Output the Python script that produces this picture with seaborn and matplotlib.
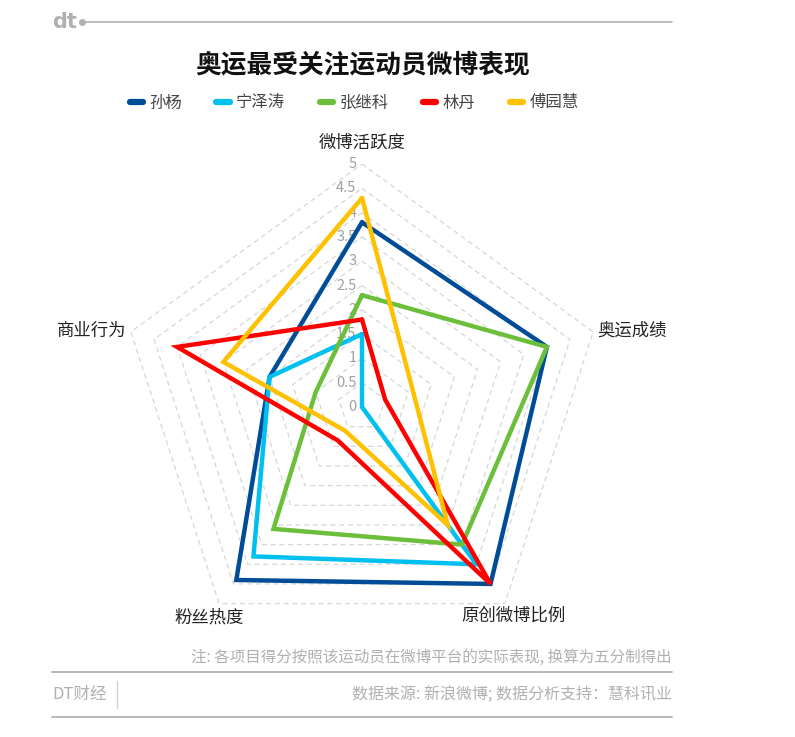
import numpy as np
import pandas as pd
import matplotlib
matplotlib.use("Agg")
import matplotlib.pyplot as plt
import matplotlib.transforms as mtransforms
from matplotlib.lines import Line2D
import seaborn as sns

# ---------------- data ----------------
categories = ['微博活跃度', '奥运成绩', '原创微博比例', '粉丝热度', '商业行为']
athletes = ['孙杨', '宁泽涛', '张继科', '林丹', '傅园慧']
sun_yang = [3.8, 4.0, 4.5, 4.4, 2.0]
ning_zetao = [1.5, 0.0, 4.0, 3.8, 2.0]
zhang_jike = [2.3, 4.0, 3.5, 3.1, 1.0]
lin_dan = [1.8, 0.5, 4.5, 0.85, 4.0]
fu_yuanhui = [4.3, 1.1, 3.0, 0.6, 3.0]
series = [sun_yang, ning_zetao, zhang_jike, lin_dan, fu_yuanhui]
colors = ['#004C97', '#00C0F0', '#6BBF3B', '#FF0000', '#FFC000']
tick_values = [0, 0.5, 1, 1.5, 2, 2.5, 3, 3.5, 4, 4.5, 5]
tick_labels = ['0', '0.5', '1', '1.5', '2', '2.5', '3', '3.5', '4', '4.5', '5']

title = '奥运最受关注运动员微博表现'
note = '注: 各项目得分按照该运动员在微博平台的实际表现, 换算为五分制得出'
source = '数据来源: 新浪微博; 数据分析支持：慧科讯业'
brand = 'DT财经'

# ---------------- style ----------------
sns.set_theme(style='white')
plt.rcParams['font.family'] = ['Noto Sans CJK SC', 'DejaVu Sans']
plt.rcParams['axes.unicode_minus'] = False

W, H = 795, 737
fig = plt.figure(figsize=(W / 100, H / 100), dpi=100)
fig.patch.set_facecolor('white')

cx, cy, R = 362, 407, 243
ax = fig.add_axes([(cx - R) / W, (H - cy - R) / H, 2 * R / W, 2 * R / H], projection='polar')
ax.set_facecolor('none')
ax.set_theta_offset(np.pi / 2)
ax.set_theta_direction(-1)
ax.set_ylim(0, 5)
ax.grid(False)
ax.spines['polar'].set_visible(False)
ax.set_xticks([])
ax.set_yticks([])

n = len(categories)
angles = np.linspace(0, 2 * np.pi, n, endpoint=False)
closed_angles = np.append(angles, angles[0] + 2 * np.pi)

# grid rings
for lvl in tick_values[1:]:
    ax.plot(closed_angles, [lvl] * (n + 1), color='#d6d6d6', lw=0.9,
            ls=(0, (4, 3)), zorder=1)

# data lines through seaborn
rows = []
for name, vals in zip(athletes, series):
    closed = list(vals) + [vals[0]]
    for i, (a, v) in enumerate(zip(closed_angles, closed)):
        rows.append({'athlete': name, 'theta': a, 'value': v, 'order': i})
df = pd.DataFrame(rows)
sns.lineplot(data=df, x='theta', y='value', hue='athlete', hue_order=athletes,
             palette=colors, sort=False, estimator=None, units='athlete',
             lw=3.2, ax=ax, legend=False, zorder=3)
for line in ax.get_lines()[-len(athletes):]:
    line.set_solid_joinstyle('miter')
ax.set_xlabel('')
ax.set_ylabel('')
ax.set_ylim(0, 5)

# radial tick labels
off = mtransforms.offset_copy(ax.transData, fig=fig, x=-4, y=0, units='points')
for v, lab in zip(tick_values, tick_labels):
    ax.text(0, v, lab, transform=off, ha='right', va='center',
            fontsize=10.5, color='#a0a0a0', zorder=2)

# category labels
label_pos = [
    (5.45, 'center', 'center'),
    (5.1, 'left', 'center'),
    (5.3, 'center', 'center'),
    (5.35, 'center', 'center'),
    (5.1, 'right', 'center'),
]
for a, cat, (r, ha, va) in zip(angles, categories, label_pos):
    ax.text(a, r, cat, ha=ha, va=va, fontsize=12.5, color='#222222')

# ---------------- header ----------------
fig.text(52 / W, 1 - 22 / H, 'dt', fontsize=15, fontweight='bold', color='#b0b0b0',
         ha='left', va='center', family=['DejaVu Sans'])
fig.add_artist(Line2D([82 / W, 672 / W], [1 - 22 / H, 1 - 22 / H], color='#b0b0b0', lw=1.2))
fig.add_artist(Line2D([82 / W], [1 - 22 / H], marker='o', ms=4, color='#b0b0b0'))

fig.text(363 / W, 1 - 65 / H, title, fontsize=18.5, fontweight='bold', color='#111111',
         ha='center', va='center')

handles = [Line2D([0], [0], color=c, lw=4.5, solid_capstyle='round') for c in colors]
leg = fig.legend(handles, athletes, loc='center', bbox_to_anchor=(354 / W, 1 - 103 / H),
                 ncol=5, frameon=False, handlelength=0.8, handletextpad=0.4,
                 columnspacing=2.1, fontsize=11.8)
for t in leg.get_texts():
    t.set_color('#444444')

# ---------------- footer ----------------
fig.text(672 / W, 1 - 657 / H, note, fontsize=11.2, color='#b0b0b0', ha='right', va='center')
fig.add_artist(Line2D([52 / W, 672 / W], [1 - 672 / H, 1 - 672 / H], color='#aaaaaa', lw=1.2))
fig.text(52 / W, 1 - 694 / H, brand, fontsize=12, color='#b0b0b0', ha='left', va='center')
fig.add_artist(Line2D([117 / W, 117 / W], [1 - 681 / H, 1 - 708 / H], color='#d0d0d0', lw=1))
fig.text(672 / W, 1 - 694 / H, source, fontsize=11.5, color='#b0b0b0', ha='right', va='center')
fig.add_artist(Line2D([52 / W, 672 / W], [1 - 717 / H, 1 - 717 / H], color='#aaaaaa', lw=1.2))

fig.savefig('out.png', dpi=100, facecolor='white')
